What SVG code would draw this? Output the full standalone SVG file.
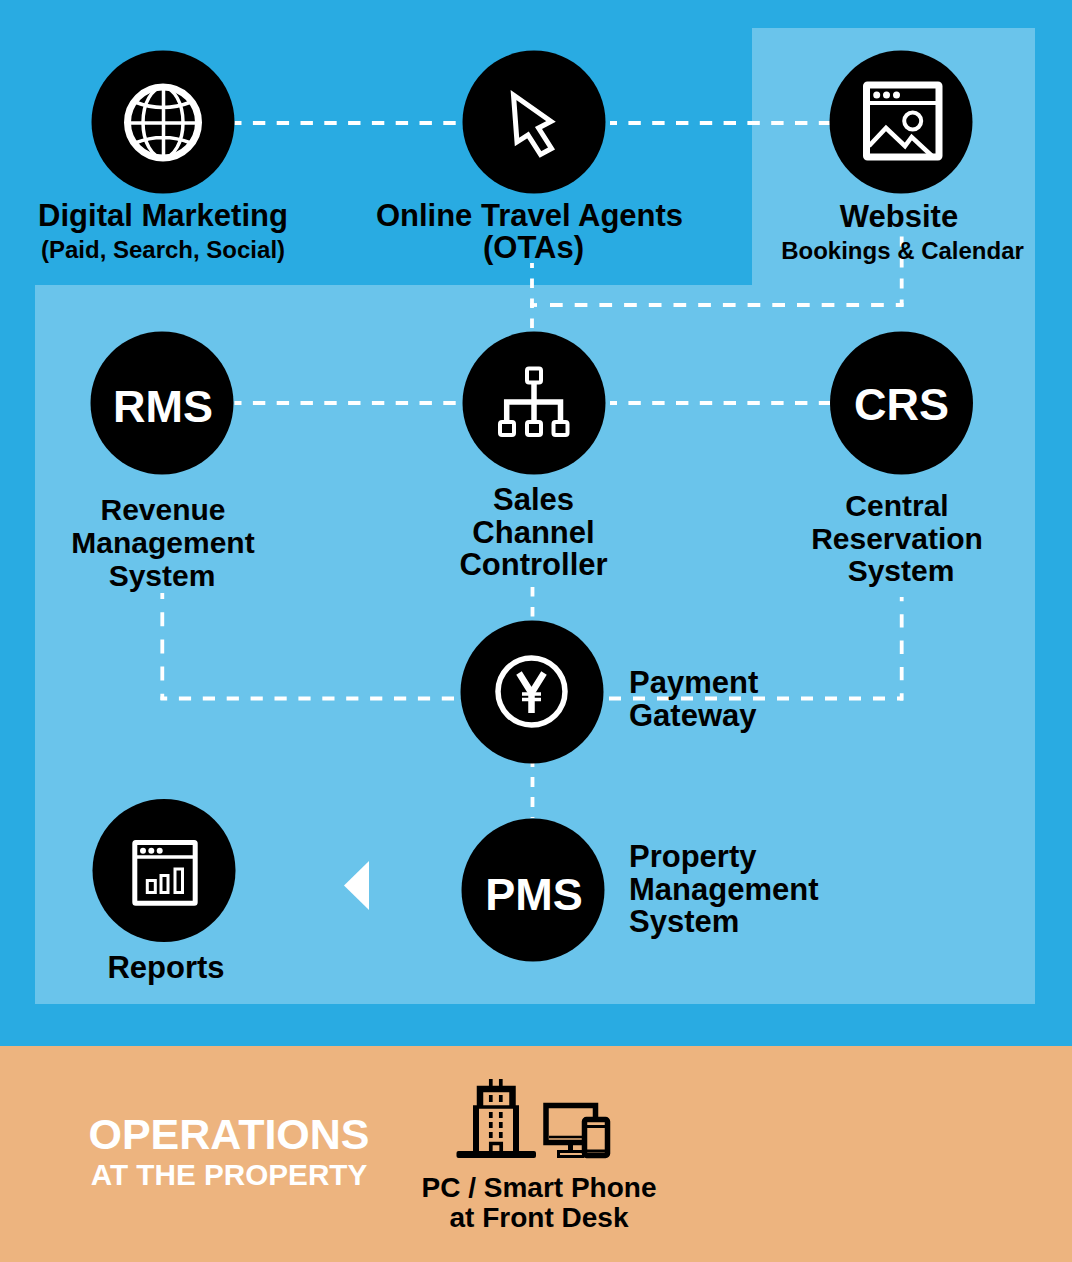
<svg xmlns="http://www.w3.org/2000/svg" width="1072" height="1262" viewBox="0 0 1072 1262">
<style>
.t{font-family:"Liberation Sans",Arial,sans-serif;font-weight:700;fill:#000;text-anchor:middle}
.l{text-anchor:start}
.n{font-size:31px}
.m{font-size:30px}
.s{font-size:24px}
.b{font-size:45px;fill:#fff}
.p{font-size:28px}
.c{fill:#000}
.w{fill:#fff}
.i{fill:none;stroke:#fff;stroke-width:4}
.d{fill:none;stroke:#fff;stroke-width:3.8}
.h{stroke-dasharray:12.4 11.4;stroke-dashoffset:5.4}
.k{fill:none;stroke:#000;stroke-width:6;stroke-linejoin:miter}
</style>
<rect width="1072" height="1262" fill="#29abe2"/>
<path d="M752 28H1035V1004H35V285H752Z" fill="#6ac4eb"/>
<rect y="1046" width="1072" height="216" fill="#edb47f"/>
<g id="connectors">
<path class="d h" d="M234.500 123H456"/>
<path class="d h" d="M610 123H830"/>
<path class="d h" d="M234.500 403H456"/>
<path class="d h" d="M610 403H830"/>
<path class="d" stroke-dasharray="9.500 10.500" stroke-dashoffset="4.500" d="M532 263V332"/>
<path class="d" d="M530 305H537"/>
<path class="d" stroke-dasharray="12.700 12" d="M550 305H903.500"/>
<path class="d" stroke-dasharray="10 11" stroke-dashoffset="3" d="M901.700 306.500V235"/>
<path class="d" stroke-dasharray="14 13.200" stroke-dashoffset="8" d="M162.300 593V700"/>
<path class="d" stroke-dasharray="12.200 11.700" d="M454 698.500H160.500"/>
<path class="d" stroke-dasharray="13.300 13" stroke-dashoffset="6" d="M901.700 700.500V597"/>
<path class="d" stroke-dasharray="12 12" d="M609 698.500H903"/>
<path class="d" stroke-dasharray="9.500 10.500" d="M532.500 587V622"/>
<path class="d" stroke-dasharray="10 10" stroke-dashoffset="6" d="M532.500 763V818"/>
<path d="M369 861V910L344 885.500Z" fill="#fff"/>
</g>
<g id="digital-marketing">
<circle class="c" cx="163" cy="122" r="71.500"/>
<circle class="i" style="stroke-width:7" cx="163" cy="122.500" r="35.500"/>
<ellipse class="i" style="stroke-width:3.500" cx="163" cy="122.500" rx="20" ry="35"/>
<path class="i" style="stroke-width:3.500" d="M163.500 87V158M127 123H199M135 102Q163 113 191 102M135 143Q163 132 191 143"/>
<text class="t n" x="163" y="226">Digital Marketing</text>
<text class="t s" x="163" y="258">(Paid, Search, Social)</text>
</g>
<g id="online-travel-agents">
<circle class="c" cx="534" cy="122" r="71.500"/>
<path class="i" style="stroke-width:5" d="M513.500 95L551 121.500 538.500 128 551.500 148.500 540.500 154.500 528 135 517 142Z"/>
<text class="t n" x="529.500" y="226">Online Travel Agents</text>
<text class="t n" x="533.500" y="258">(OTAs)</text>
</g>
<g id="website">
<circle class="c" cx="901" cy="122" r="71.500"/>
<rect class="i" style="stroke-width:7" x="866.500" y="85" width="72.500" height="72" rx="1"/>
<path class="i" d="M868 103H938"/>
<circle class="w" cx="876.700" cy="95" r="3.500"/><circle class="w" cx="886.500" cy="95" r="3.500"/><circle class="w" cx="896.500" cy="95" r="3.500"/>
<circle class="i" cx="912.700" cy="121" r="8.500"/>
<path class="i" style="stroke-width:4.500" d="M869 146L886 128 905 146 911.700 137 932 156"/>
<text class="t n" x="899" y="227">Website</text>
<text class="t s" x="902.500" y="259">Bookings &amp; Calendar</text>
</g>
<g id="rms">
<circle class="c" cx="162" cy="403" r="71.500"/>
<text class="t b" x="163" y="422">RMS</text>
<text class="t m" x="163" y="520">Revenue</text>
<text class="t m" x="163" y="553">Management</text>
<text class="t m" x="162" y="586">System</text>
</g>
<g id="sales-channel-controller">
<circle class="c" cx="534" cy="403" r="71.500"/>
<rect class="i" x="527" y="368.500" width="14" height="14" rx="2"/>
<rect class="i" x="500" y="422" width="14" height="13" rx="2"/>
<rect class="i" x="527" y="422" width="14" height="13" rx="2"/>
<rect class="i" x="553.500" y="422" width="14" height="13" rx="2"/>
<path class="i" style="stroke-width:5.500" d="M534 384V421M506.700 421V402H560.500V421"/>
<text class="t n" x="533.500" y="510">Sales</text>
<text class="t n" x="533.500" y="543">Channel</text>
<text class="t n" x="533.500" y="575">Controller</text>
</g>
<g id="crs">
<circle class="c" cx="901.500" cy="403" r="71.500"/>
<text class="t b" x="901.500" y="420">CRS</text>
<text class="t m" x="897" y="515.500">Central</text>
<text class="t m" x="897" y="548.500">Reservation</text>
<text class="t m" x="901" y="581">System</text>
</g>
<g id="payment-gateway">
<circle class="c" cx="532" cy="692" r="71.500"/>
<circle class="i" style="stroke-width:5.500" cx="531.500" cy="691.500" r="33.500"/>
<path class="i" style="stroke-width:6.500" d="M519 673L531.500 693 544 673M531.500 692V713"/>
<path class="i" style="stroke-width:3.500" d="M522 694H541M522 699.500H541"/>
<text class="t n l" x="629" y="693">Payment</text>
<text class="t n l" x="629" y="726">Gateway</text>
</g>
<g id="pms">
<circle class="c" cx="533" cy="890" r="71.500"/>
<text class="t b" x="534" y="910">PMS</text>
<text class="t n l" x="629" y="867">Property</text>
<text class="t n l" x="629" y="900">Management</text>
<text class="t n l" x="629" y="932">System</text>
</g>
<g id="reports">
<circle class="c" cx="164" cy="870.500" r="71.500"/>
<rect class="i" style="stroke-width:5" x="134.800" y="842.500" width="60.400" height="60.700" rx="1"/>
<path class="i" style="stroke-width:3.500" d="M137 857H194"/>
<circle class="w" cx="143" cy="850.700" r="3"/><circle class="w" cx="151.300" cy="850.700" r="3"/><circle class="w" cx="159.700" cy="850.700" r="3"/>
<path class="i" style="stroke-width:3" d="M147.300 880.500H155.300V892.500H147.300ZM161 875.500H168V892.500H161ZM175 869H182.500V892.500H175Z"/>
<text class="t n" x="166" y="978">Reports</text>
</g>
<g id="operations">
<text class="t" x="229" y="1149" style="font-size:43px;fill:#fff">OPERATIONS</text>
<text class="t" x="229" y="1185" style="font-size:29.700px;fill:#fff">AT THE PROPERTY</text>
</g>
<g id="front-desk">
<path class="k" style="stroke-width:6.500" d="M480 1106V1089H512.500V1106"/>
<path class="k" d="M476 1108V1152M516 1108V1152"/>
<path class="k" style="stroke-width:3.500" d="M473 1107H519"/>
<path class="k" style="stroke-width:3.700" d="M490.800 1079V1086M500.800 1079V1086M490.800 1095V1102M500.800 1095V1102M490.800 1112V1118M500.800 1112V1118M490.800 1122V1128M500.800 1122V1128M490.800 1132V1138M500.800 1132V1138"/>
<path class="k" style="stroke-width:3.700" d="M490.800 1152V1143.500H501.200V1152"/>
<path d="M458.500 1151H534a2 2 0 0 1 2 2V1156a2 2 0 0 1-2 2H458.500a2 2 0 0 1-2-2V1153a2 2 0 0 1 2-2Z" fill="#000"/>
<path class="k" style="stroke-width:5.500" d="M595.500 1120V1105.500H546V1142.500H584"/>
<path class="k" style="stroke-width:2.500" d="M549 1137H584"/>
<path class="k" style="stroke-width:5" d="M570.500 1145V1151"/>
<path class="k" style="stroke-width:3" d="M558.500 1158V1151.500H584M558.500 1156.500H584"/>
<rect x="584.500" y="1119.500" width="23" height="36" rx="2" fill="#edb47f" stroke="#000" stroke-width="5.500"/>
<path class="k" style="stroke-width:2.800" d="M587 1126.500H605M587 1151H605"/>
<text class="t p" x="539" y="1197">PC / Smart Phone</text>
<text class="t p" x="539" y="1227">at Front Desk</text>
</g>
</svg>
